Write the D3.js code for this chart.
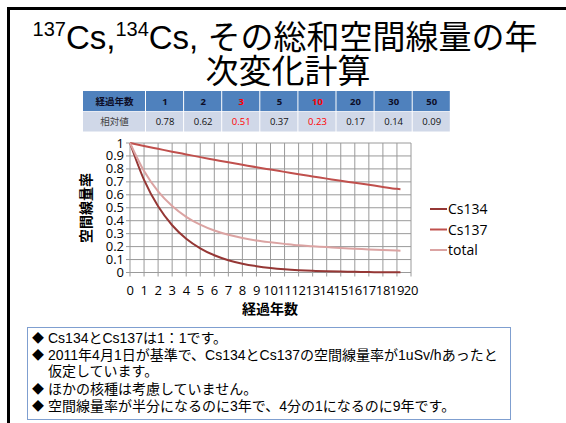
<!DOCTYPE html>
<html>
<head>
<meta charset="utf-8">
<script src="https://cdn.jsdelivr.net/npm/d3@7"></script>
<style>
  html, body { margin: 0; padding: 0; background: #fff; }
  svg { display: block; }
</style>
</head>
<body>
<svg id="slide" width="566" height="423"></svg>
<script>
// Elapsed years of each computed point
const years = [0, 1, 2, 3, 4, 5, 6, 7, 8, 9, 10, 11, 12, 13, 14, 15, 16, 17, 18, 19, 19.25];
// Relative air dose rate per nuclide and their weighted sum
const cs134 = [1.000, 0.715, 0.511, 0.365, 0.261, 0.187, 0.133, 0.095, 0.068, 0.049, 0.035, 0.025, 0.018, 0.013, 0.009, 0.007, 0.005, 0.003, 0.002, 0.002, 0.002];
const cs137 = [1.000, 0.977, 0.955, 0.933, 0.912, 0.891, 0.871, 0.851, 0.832, 0.813, 0.795, 0.777, 0.759, 0.742, 0.725, 0.708, 0.693, 0.677, 0.661, 0.646, 0.643];
const total = [1.000, 0.783, 0.626, 0.513, 0.430, 0.370, 0.324, 0.291, 0.266, 0.247, 0.233, 0.221, 0.210, 0.203, 0.196, 0.189, 0.184, 0.178, 0.173, 0.169, 0.168];
const seriesNames = ["Cs134", "Cs137", "total"];
const seriesColors = ["#953735", "#c0504d", "#dba3a2"];

// Summary table
const tableYears = ["1", "2", "3", "5", "10", "20", "30", "50"];
const tableValues = ["0.78", "0.62", "0.51", "0.37", "0.23", "0.17", "0.14", "0.09"];
const tableHighlight = ["3", "10"];

// Axis ticks
const xTicks = d3.range(0, 21);
const yTicks = [0, 0.1, 0.2, 0.3, 0.4, 0.5, 0.6, 0.7, 0.8, 0.9, 1];

const notes = [
  ["◆", "Cs134とCs137は1：1です。"],
  ["◆", "2011年4月1日が基準で、Cs134とCs137の空間線量率が1uSv/hあったと"],
  ["", "仮定しています。"],
  ["◆", "ほかの核種は考慮していません。"],
  ["◆", "空間線量率が半分になるのに3年で、4分の1になるのに9年です。"]
];

const JP = "'Liberation Sans', 'Noto Sans CJK JP', sans-serif";
const CHART = "'Open Sans', 'Noto Sans CJK JP', sans-serif";

const svg = d3.select("#slide");

// slide frame
svg.append("path")
  .attr("d", "M8.5,423 L8.5,8.5 L566,8.5")
  .attr("fill", "none").attr("stroke", "#000").attr("stroke-width", 3);

// title
const t1 = svg.append("text")
  .attr("x", 285).attr("y", 49)
  .attr("text-anchor", "middle")
  .attr("font-family", JP).attr("font-size", 33).attr("fill", "#000");
t1.append("tspan").attr("font-size", 20).attr("dy", -13).text("137");
t1.append("tspan").attr("dy", 13).text("Cs,");
t1.append("tspan").attr("font-size", 20).attr("dy", -13).text("134");
t1.append("tspan").attr("dy", 13).text("Cs, その総和空間線量の年");
svg.append("text")
  .attr("x", 288).attr("y", 83)
  .attr("text-anchor", "middle")
  .attr("font-family", JP).attr("font-size", 33).attr("fill", "#000")
  .text("次変化計算");

// table
const tbl = svg.append("g").attr("font-family", "'Open Sans', 'Noto Sans CJK JP', sans-serif").attr("font-size", 9.5);
const firstW = 63, cellW = 38.1, tx0 = 83, rowY = [91, 111.5], rowH = 20;
const colX = i => i === 0 ? tx0 : tx0 + firstW + (i - 1) * cellW;
const colW = i => i === 0 ? firstW : cellW;
const headRow = ["経過年数"].concat(tableYears);
const valueRow = ["相対値"].concat(tableValues);
headRow.forEach((txt, i) => {
  tbl.append("rect").attr("x", colX(i)).attr("y", rowY[0]).attr("width", colW(i) - 1).attr("height", rowH)
    .attr("fill", "#4f81bd");
  tbl.append("text").attr("x", colX(i) + colW(i) / 2).attr("y", rowY[0] + 13.5)
    .attr("text-anchor", "middle").attr("font-weight", "bold")
    .attr("fill", tableHighlight.includes(txt) ? "#ff0000" : "#0d0d26")
    .text(txt);
});
valueRow.forEach((txt, i) => {
  tbl.append("rect").attr("x", colX(i)).attr("y", rowY[1]).attr("width", colW(i) - 1).attr("height", rowH)
    .attr("fill", "#d0d8e8");
  const hl = i > 0 && tableHighlight.includes(tableYears[i - 1]);
  tbl.append("text").attr("x", colX(i) + colW(i) / 2).attr("y", rowY[1] + 13.5)
    .attr("text-anchor", "middle")
    .attr("fill", i === 0 ? "#444" : (hl ? "#ff0000" : "#111"))
    .text(txt);
});

// chart
const x = d3.scaleLinear().domain([0, 20]).range([130, 411]);
const y = d3.scaleLinear().domain([0, 1]).range([272.5, 143]);
const plot = svg.append("g");

// gridlines
plot.append("g").selectAll("line").data(xTicks).join("line")
  .attr("x1", d => x(d)).attr("x2", d => x(d))
  .attr("y1", y(1)).attr("y2", y(0) + 4)
  .attr("stroke", "#9a9a9a").attr("stroke-width", 1);
plot.append("g").selectAll("line").data(yTicks).join("line")
  .attr("x1", x(0) - 4).attr("x2", x(20))
  .attr("y1", d => y(d)).attr("y2", d => y(d))
  .attr("stroke", "#9a9a9a").attr("stroke-width", 1);

// tick labels
plot.append("g").selectAll("text").data(yTicks).join("text")
  .attr("x", 124).attr("y", d => y(d) + 4.5)
  .attr("text-anchor", "end")
  .attr("font-family", CHART).attr("font-size", 13).attr("fill", "#000")
  .text(d => d3.format("")(d));
plot.append("g").selectAll("text").data(xTicks).join("text")
  .attr("x", d => x(d)).attr("y", 295)
  .attr("text-anchor", "middle")
  .attr("font-family", CHART).attr("font-size", 13).attr("letter-spacing", -0.3).attr("fill", "#000")
  .text(d => d);

// axis titles
svg.append("text")
  .attr("transform", "translate(91,208) rotate(-90)")
  .attr("text-anchor", "middle")
  .attr("font-family", "'Noto Sans CJK JP', sans-serif").attr("font-weight", "bold").attr("font-size", 14)
  .text("空間線量率");
svg.append("text")
  .attr("x", 270).attr("y", 314)
  .attr("text-anchor", "middle")
  .attr("font-family", "'Noto Sans CJK JP', sans-serif").attr("font-weight", "bold").attr("font-size", 14)
  .text("経過年数");

// series lines
const line = d3.line().x((d, i) => x(years[i])).y(d => y(d)).curve(d3.curveMonotoneX);
[cs134, cs137, total].forEach((vals, k) => {
  plot.append("path").datum(vals)
    .attr("d", line)
    .attr("fill", "none")
    .attr("stroke", seriesColors[k]).attr("stroke-width", 2);
});

// legend
const leg = svg.append("g");
seriesNames.forEach((name, k) => {
  const ly = 209 + k * 20.5;
  leg.append("line").attr("x1", 430).attr("x2", 447).attr("y1", ly).attr("y2", ly)
    .attr("stroke", seriesColors[k]).attr("stroke-width", 2);
  leg.append("text").attr("x", 448).attr("y", ly + 5)
    .attr("font-family", CHART).attr("font-size", 14).attr("fill", "#000")
    .text(name);
});

// notes box
svg.append("rect").attr("x", 27.5).attr("y", 327.5).attr("width", 483).attr("height", 92)
  .attr("fill", "#fff").attr("stroke", "#7f9fd0").attr("stroke-width", 1);
const noteY = [343, 360, 376, 394, 411];
notes.forEach((n, i) => {
  if (n[0]) {
    svg.append("text").attr("x", 32).attr("y", noteY[i])
      .attr("font-family", "'Noto Sans CJK JP', sans-serif").attr("font-size", 12).attr("fill", "#000")
      .text(n[0]);
  }
  svg.append("text").attr("x", 48).attr("y", noteY[i])
    .attr("font-family", JP).attr("font-size", 14).attr("fill", "#000")
    .text(n[1]);
});
</script>
</body>
</html>
